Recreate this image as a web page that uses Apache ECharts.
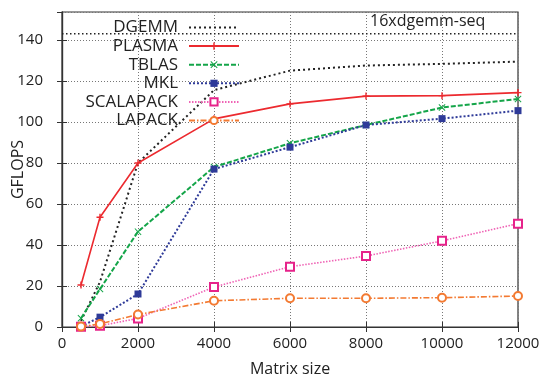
<!DOCTYPE html>
<html>
<head>
<meta charset="utf-8">
<script src="https://cdn.jsdelivr.net/npm/echarts@6/dist/echarts.min.js"></script>
<style>html,body{margin:0;padding:0;background:#fff}#c{width:544px;height:383px}</style>
</head>
<body>
<div id="c"></div>
<script>
const sizes = [500, 1000, 2000, 4000, 6000, 8000, 10000, 12000];
const dgemm = [3, 22, 80, 115.5, 125, 127.5, 128.3, 129.4];
const plasma = [20.5, 53.5, 80, 101.5, 108.8, 112.6, 112.8, 114.3];
const tblas = [4.3, 18.5, 46.5, 78, 89.6, 98.5, 107, 111.2];
const mkl = [0.3, 4.8, 16.1, 77, 87.7, 98.5, 101.6, 105.5];
const scalapack = [0.1, 0.6, 4.2, 19.5, 29.4, 34.6, 42, 50.4];
const lapack = [0.2, 1.5, 6.1, 12.8, 14, 14, 14.3, 15.1];
const seqLevel = 143;
const seqLabel = '16xdgemm-seq';
const xTicks = [0, 2000, 4000, 6000, 8000, 10000, 12000];
const yTicks = [0, 20, 40, 60, 80, 100, 120, 140];

const FONT = 'Open Sans';
const pair = arr => sizes.map((x, i) => [x, arr[i]]);
const plusPath = 'path://M4,0H6V4H10V6H6V10H4V6H0V4H4Z';
const crossPath = 'path://M1,0L5,4L9,0L10,1L6,5L10,9L9,10L5,6L1,10L0,9L4,5L0,1Z';

const chart = echarts.init(document.getElementById('c'), null, {renderer: 'canvas'});
const gridCfg = {left: 62, right: 26, top: 12, bottom: 56, show: true, borderColor: '#333', borderWidth: 1.2, outerBoundsMode: 'none', containLabel: false};
const splitDotted = {show: true, lineStyle: {color: '#777', width: 1, type: [1, 2]}};
const option = {
  animation: false,
  backgroundColor: '#fff',
  textStyle: {fontFamily: FONT},
  title: {
    text: seqLabel, left: 365, top: 8,
    textStyle: {fontFamily: FONT, fontSize: 16, fontWeight: 'normal', color: '#222'}
  },
  grid: gridCfg,
  legend: {
    orient: 'vertical', align: 'right', right: 299, top: 14,
    itemWidth: 50, itemHeight: 9, itemGap: 1.6,
    data: [{name: 'DGEMM', itemStyle: {opacity: 0}}, 'PLASMA', 'TBLAS', 'MKL', 'SCALAPACK', 'LAPACK'],
    textStyle: {fontFamily: FONT, fontSize: 17, color: '#222', padding: [0, 6, 0, 0]}
  },
  xAxis: [{
    type: 'value', min: 0, max: 12000, interval: 2000,
    name: 'Matrix size', nameLocation: 'middle', nameGap: 34, nameMoveOverlap: false,
    nameTextStyle: {fontFamily: FONT, fontSize: 16, color: '#222'},
    axisLine: {show: true, onZero: false, lineStyle: {color: '#333', width: 1.2}},
    axisTick: {show: true, inside: true, length: 5, lineStyle: {color: '#333'}},
    axisLabel: {fontFamily: FONT, fontSize: 15, color: '#222', margin: 9,
      formatter: v => xTicks.includes(v) ? String(v) : ''},
    splitLine: splitDotted
  }, {
    type: 'value', position: 'top', min: 0, max: 12000, interval: 2000,
    axisLine: {show: true, lineStyle: {color: '#333', width: 1.2}},
    axisTick: {show: true, inside: true, length: 5, lineStyle: {color: '#333'}},
    axisLabel: {show: false}, splitLine: {show: false}
  }],
  yAxis: [{
    type: 'value', min: 0, max: 153.6, interval: 20,
    name: 'GFLOPS', nameLocation: 'middle', nameGap: 36, nameRotate: 90, nameMoveOverlap: false,
    nameTextStyle: {fontFamily: FONT, fontSize: 16, color: '#222'},
    axisLine: {show: true, onZero: false, lineStyle: {color: '#333', width: 1.2}},
    axisTick: {show: true, inside: true, length: 5, lineStyle: {color: '#333'}},
    axisLabel: {fontFamily: FONT, fontSize: 15, color: '#222', margin: 19, showMaxLabel: false,
      formatter: v => yTicks.includes(v) ? String(v) : ''},
    splitLine: splitDotted
  }, {
    type: 'value', position: 'right', min: 0, max: 153.6, interval: 20,
    axisLine: {show: true, lineStyle: {color: '#333', width: 1.2}},
    axisTick: {show: true, inside: true, length: 5, lineStyle: {color: '#333'}},
    axisLabel: {show: false}, splitLine: {show: false}
  }],
  series: [
    {
      name: seqLabel, type: 'line', data: [[0, seqLevel], [12000, seqLevel]],
      showSymbol: false, symbol: 'none', silent: true,
      lineStyle: {color: '#222', width: 1.5, type: [1.5, 2.5]}, z: 1
    },
    {
      name: 'DGEMM', type: 'line', data: pair(dgemm), symbol: 'none',
      itemStyle: {color: '#222'},
      lineStyle: {color: '#222', width: 2, type: [2, 3]}
    },
    {
      name: 'PLASMA', type: 'line', data: pair(plasma),
      symbol: plusPath, symbolSize: 7,
      itemStyle: {color: '#ec2a2f'},
      lineStyle: {color: '#ec2a2f', width: 1.6, type: 'solid'}
    },
    {
      name: 'TBLAS', type: 'line', data: pair(tblas),
      symbol: crossPath, symbolSize: 7,
      itemStyle: {color: '#14a549'},
      lineStyle: {color: '#14a549', width: 2, type: [5, 2]}
    },
    {
      name: 'MKL', type: 'line', data: pair(mkl),
      symbol: 'rect', symbolSize: 7,
      itemStyle: {color: '#2e3a98'},
      lineStyle: {color: '#2e3a98', width: 2, type: [2, 2]}
    },
    {
      name: 'SCALAPACK', type: 'line', data: pair(scalapack),
      symbol: 'emptyRect', symbolSize: 8,
      itemStyle: {color: '#e6238a', borderWidth: 1.6},
      lineStyle: {color: '#ef63b5', width: 1.6, type: [1.5, 1.5]}
    },
    {
      name: 'LAPACK', type: 'line', data: pair(lapack),
      symbol: 'emptyCircle', symbolSize: 8,
      itemStyle: {color: '#f37a32', borderWidth: 1.6},
      lineStyle: {color: '#f37a32', width: 1.6, type: [6, 2, 1.5, 2]}
    }
  ]
};
chart.setOption(option);
</script>
</body>
</html>
